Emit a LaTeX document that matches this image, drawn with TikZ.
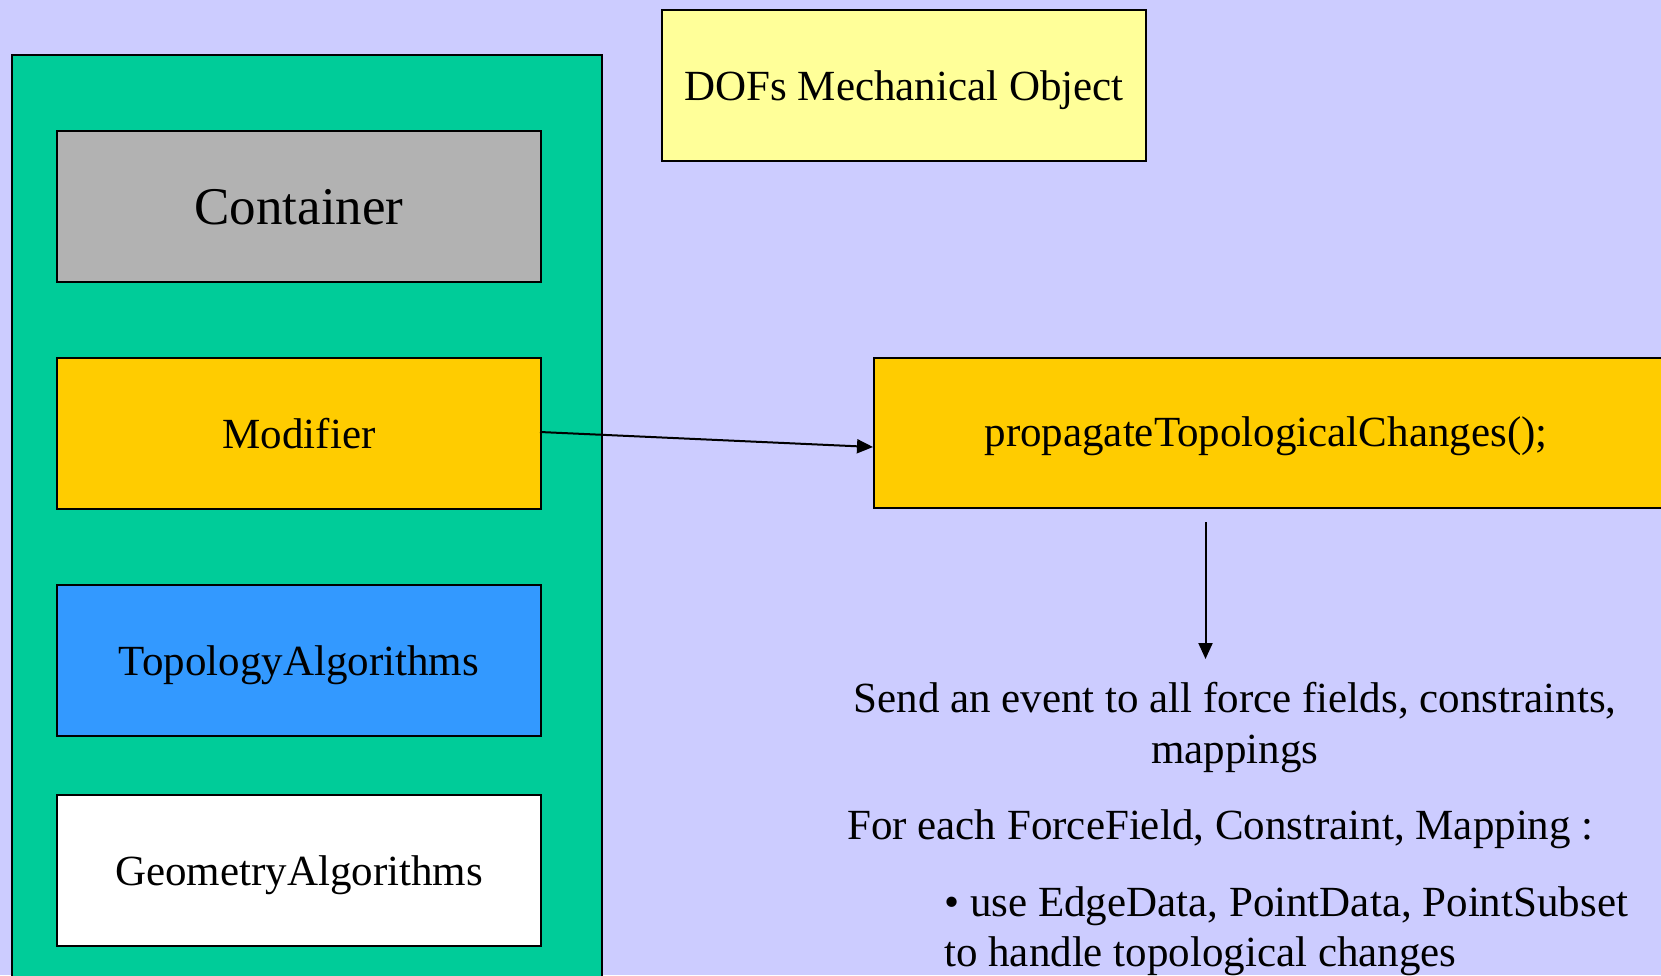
\documentclass[tikz,border=0pt]{standalone}
\usepackage{fontspec}
\setmainfont{Liberation Serif}
\usetikzlibrary{arrows.meta}
\definecolor{bgblue}{HTML}{CCCCFF}
\definecolor{panelgreen}{HTML}{00CC99}
\definecolor{boxgray}{HTML}{B2B2B2}
\definecolor{boxgold}{HTML}{FFCC00}
\definecolor{boxblue}{HTML}{3399FF}
\definecolor{boxyellow}{HTML}{FFFF99}
\tikzset{
  px/.style={x=1pt,y=-1pt},
  block/.style={draw=black, line width=2pt, rectangle, inner sep=0pt, anchor=north west},
  label43/.style={font=\fontsize{43}{51}\selectfont, text height=29.5pt, text depth=0pt},
  txt/.style={font=\fontsize{43}{51}\selectfont, inner sep=0pt},
  link/.style={draw=black, line width=2pt, -{Triangle[length=16pt,width=14pt]}},
}
\begin{document}
\begin{tikzpicture}[px]
  % canvas
  \fill[bgblue] (0,0) rectangle (1661,975);
  \useasboundingbox (0,0) rectangle (1661,975);
  \clip (0,0) rectangle (1661,975);

  % component panel on the left
  \node[block, fill=panelgreen, minimum width=590pt, minimum height=960pt] (panel) at (11,54) {};
  \node[block, fill=boxgray, minimum width=484pt, minimum height=151pt,
        font=\fontsize{53}{60}\selectfont, text height=36.5pt, text depth=0pt] (container) at (56,130) {Container};
  \node[block, fill=boxgold, minimum width=484pt, minimum height=151pt, label43] (modifier) at (56,357) {Modifier};
  \node[block, fill=boxblue, minimum width=484pt, minimum height=151pt, label43] (topo) at (56,584) {TopologyAlgorithms};
  \node[block, fill=white, minimum width=484pt, minimum height=151pt, label43] (geo) at (56,794) {GeometryAlgorithms};

  % mechanical state
  \node[block, fill=boxyellow, minimum width=484pt, minimum height=151pt, label43] (dofs) at (661,9) {DOFs Mechanical Object};

  % propagation call
  \node[block, fill=boxgold, minimum width=850pt, minimum height=150pt] (prop) at (873,357) {};
  \node[txt, anchor=base] (proptxt) at (1266,446) {propagateTopologicalChanges();};

  % connectors
  \coordinate (modout) at (540,432);
  \coordinate (propin) at (873,447);
  \draw[link] (modout) -- (propin);
  \coordinate (downtop) at (1205.5,522);
  \coordinate (downend) at (1205.5,659);
  \draw[link] (downtop) -- (downend);

  % explanation
  \node[txt, anchor=base] (send1) at (1235,712) {Send an event to all force fields, constraints,};
  \node[txt, anchor=base] (send2) at (1235,763) {mappings};
  \node[txt, anchor=base west] (each) at (847,839) {For each ForceField, Constraint, Mapping :};
  \node[txt, anchor=base west] (use1) at (944,916) {• use EdgeData, PointData, PointSubset};
  \node[txt, anchor=base west] (use2) at (944,966) {to handle topological changes};
\end{tikzpicture}
\end{document}
